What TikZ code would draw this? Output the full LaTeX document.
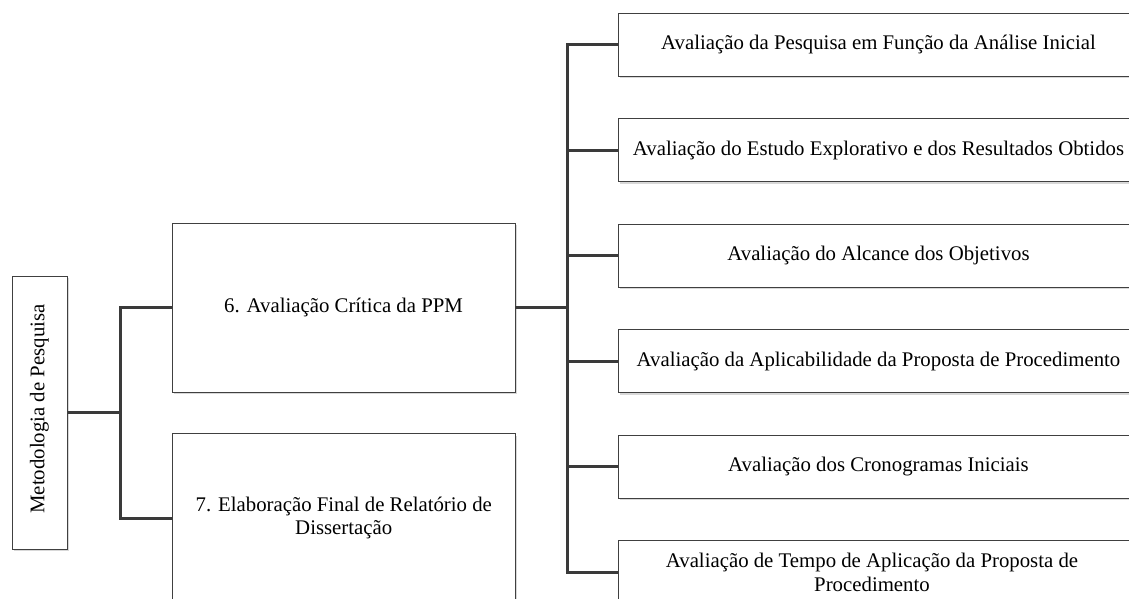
\documentclass[tikz,border=0pt]{standalone}
\usepackage{fontspec}
\setmainfont{Liberation Serif}
\usetikzlibrary{shadows}
\definecolor{bordercol}{HTML}{404040}
\definecolor{linkcol}{HTML}{3A3A3A}
\tikzset{
  box/.style={draw=bordercol, line width=0.9pt, fill=white, rectangle, inner sep=0pt,
    align=center, font=\fontsize{20.8}{23.5}\selectfont,
    drop shadow={shadow xshift=1.5pt, shadow yshift=-2pt, fill=black!30}},
  rbox/.style={box, minimum width=521pt, minimum height=63pt},
  midbox/.style={box, minimum width=343pt, minimum height=169pt},
  link/.style={draw=linkcol, line width=3pt}
}
\begin{document}
\begin{tikzpicture}[x=1pt,y=-1pt]
\useasboundingbox (0,0) rectangle (1129,599);
\clip (0,0) rectangle (1129,599);
\fill[white] (0,0) rectangle (1129,599);

\node[box, minimum width=55.5pt, minimum height=273pt] (meto) at (39.75,412.5) {};
\node[rotate=90, font=\fontsize{20.8}{23.5}\selectfont] (metot) at (39.5,409) {Metodologia de Pesquisa};

\node[midbox] (b6) at (343.5,307.5) {6. Avaliação Crítica da PPM};
\node[midbox] (b7) at (343.75,518) {7. Elaboração Final de Relatório de\\Dissertação};

\node[rbox] (r1) at (878.5,44.5) {Avaliação da Pesquisa em Função da Análise Inicial};
\node[rbox] (r2) at (878.5,150) {Avaliação do Estudo Explorativo e dos Resultados Obtidos};
\node[rbox] (r3) at (878.5,255.5) {Avaliação do Alcance dos Objetivos};
\node[rbox] (r4) at (878.5,361) {Avaliação da Aplicabilidade da Proposta de Procedimento};
\node[rbox] (r5) at (878.5,466.5) {Avaliação dos Cronogramas Iniciais};
\node[rbox] (r6) at (878.5,572) {};
\node[align=center, font=\fontsize{20.8}{24}\selectfont] (r6t) at (872,572) {Avaliação de Tempo de Aplicação da Proposta de\\Procedimento};

\coordinate (j1) at (120,412.5);
\coordinate (j2) at (567.5,307.5);

\draw[link] (meto.east) -- (j1);
\draw[link] (b6.west) -| (j1);
\draw[link] (b7.west) -| (j1);
\draw[link] (b6.east) -- (j2);
\foreach \r in {r1,r2,r3,r4,r5,r6}{
  \draw[link] (\r.west) -| (j2);
}
\end{tikzpicture}
\end{document}
